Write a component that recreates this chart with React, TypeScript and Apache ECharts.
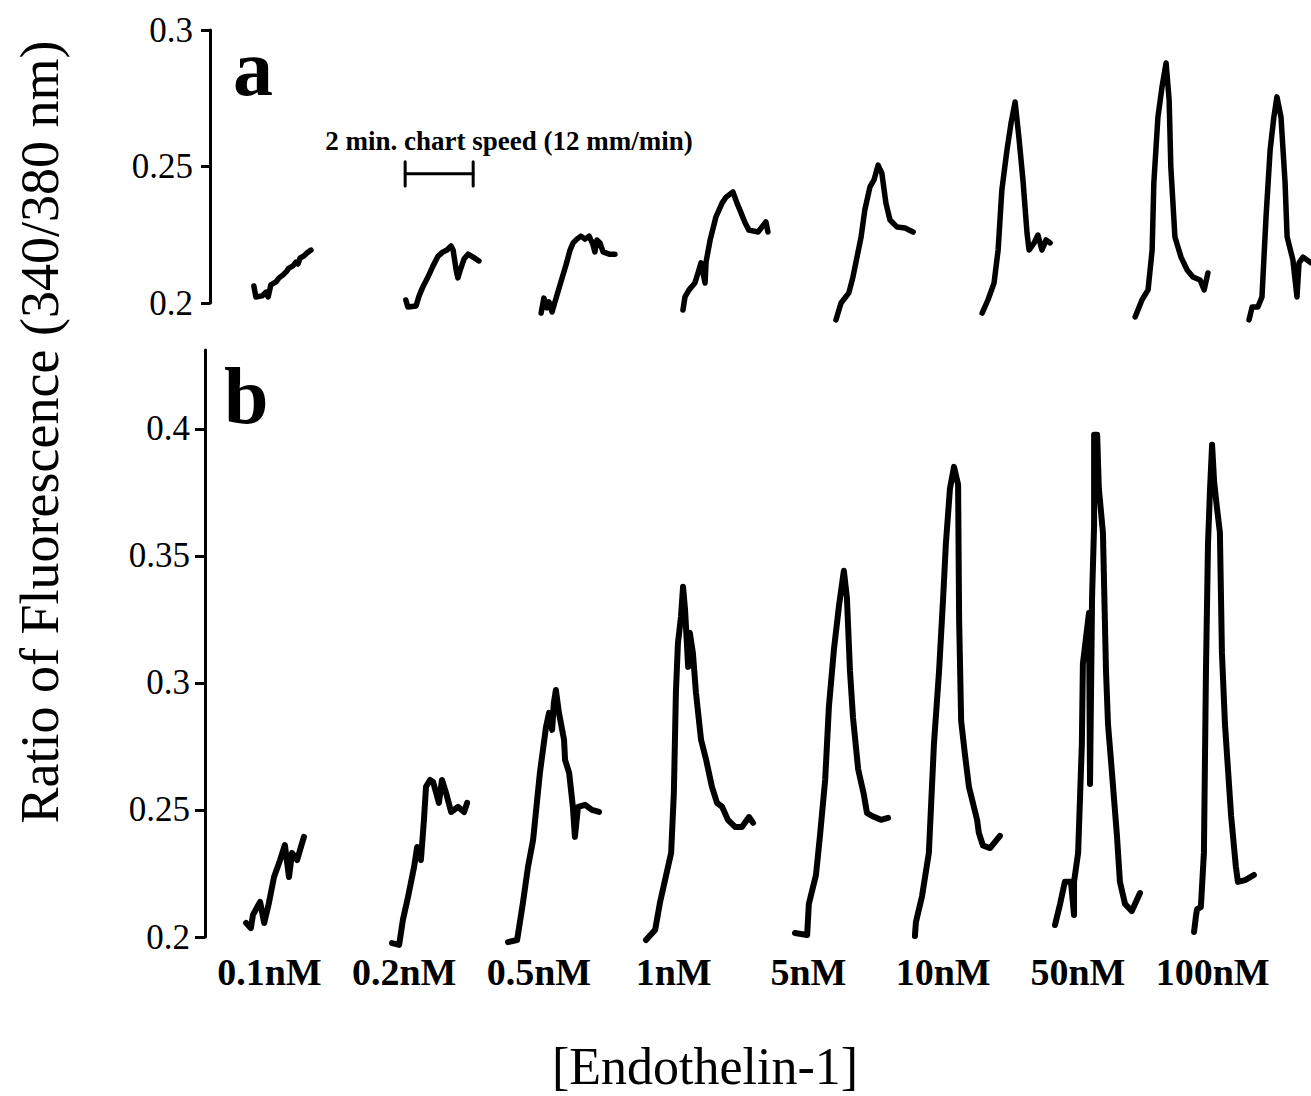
import React, { useEffect, useRef } from "react";
import * as echarts from "echarts";

// ---------- data ----------
const concentrations = ["0.1nM", "0.2nM", "0.5nM", "1nM", "5nM", "10nM", "50nM", "100nM"];
const panelATicks = [0.2, 0.25, 0.3];
const panelBTicks = [0.2, 0.25, 0.3, 0.35, 0.4];

// panel a traces: [time (min), ratio 340/380]
const a01 = [[1.29,0.2062],[1.35,0.2022],[1.53,0.2026],[1.65,0.2040],[1.71,0.2022],[1.79,0.2066],[1.94,0.2077],[2.03,0.2092],[2.15,0.2103],[2.26,0.2117],[2.32,0.2128],[2.44,0.2136],[2.53,0.2150],[2.59,0.2143],[2.65,0.2165],[2.76,0.2172],[2.85,0.2183],[2.97,0.2194]];
const a02 = [[5.76,0.2011],[5.82,0.1985],[6.06,0.1989],[6.15,0.2026],[6.26,0.2059],[6.41,0.2095],[6.56,0.2136],[6.71,0.2172],[6.85,0.2187],[6.97,0.2194],[7.09,0.2209],[7.15,0.2194],[7.24,0.2121],[7.29,0.2092],[7.38,0.2128],[7.47,0.2161],[7.59,0.2179],[7.74,0.2168],[7.91,0.2154]];
const a03 = [[9.74,0.1963],[9.82,0.2018],[9.91,0.1982],[9.97,0.2004],[10.06,0.1967],[10.18,0.2018],[10.32,0.2077],[10.47,0.2139],[10.59,0.2194],[10.68,0.2220],[10.79,0.2234],[10.91,0.2245],[11.03,0.2234],[11.15,0.2245],[11.26,0.2216],[11.32,0.2187],[11.38,0.2231],[11.47,0.2220],[11.56,0.2187],[11.74,0.2179],[11.91,0.2179]];
const a04 = [[13.91,0.1974],[13.97,0.2022],[14.09,0.2048],[14.26,0.2073],[14.38,0.2121],[14.44,0.2147],[14.56,0.2073],[14.59,0.2150],[14.71,0.2231],[14.88,0.2315],[15.06,0.2366],[15.18,0.2388],[15.38,0.2407],[15.50,0.2366],[15.62,0.2330],[15.74,0.2293],[15.85,0.2267],[16.12,0.2260],[16.35,0.2297],[16.41,0.2260]];
const a05 = [[18.41,0.1938],[18.56,0.2000],[18.79,0.2037],[18.91,0.2095],[19.15,0.2242],[19.26,0.2341],[19.41,0.2425],[19.53,0.2451],[19.65,0.2505],[19.76,0.2476],[19.88,0.2366],[20.00,0.2304],[20.21,0.2278],[20.44,0.2275],[20.68,0.2260]];
const a06 = [[22.71,0.1963],[22.88,0.2011],[23.06,0.2073],[23.18,0.2194],[23.29,0.2414],[23.44,0.2560],[23.56,0.2659],[23.68,0.2736],[23.79,0.2608],[23.91,0.2451],[24.03,0.2256],[24.09,0.2194],[24.24,0.2220],[24.35,0.2249],[24.47,0.2194],[24.59,0.2231],[24.71,0.2220]];
const a07 = [[27.21,0.1949],[27.41,0.2011],[27.59,0.2048],[27.71,0.2194],[27.76,0.2440],[27.88,0.2681],[28.00,0.2791],[28.12,0.2879],[28.21,0.2744],[28.26,0.2498],[28.38,0.2242],[28.56,0.2168],[28.74,0.2121],[28.91,0.2095],[29.12,0.2084],[29.24,0.2048],[29.35,0.2110]];
const a08 = [[30.56,0.1938],[30.65,0.1985],[30.82,0.1985],[30.94,0.2022],[31.06,0.2315],[31.18,0.2560],[31.29,0.2681],[31.38,0.2755],[31.50,0.2681],[31.62,0.2440],[31.68,0.2242],[31.85,0.2158],[31.97,0.2022],[32.03,0.2147],[32.15,0.2168],[32.38,0.2147]];

// panel b traces: [time (min), ratio 340/380]
const b01 = [[1.21,0.2055],[1.35,0.2035],[1.41,0.2087],[1.62,0.2138],[1.74,0.2055],[1.88,0.2134],[2.03,0.2236],[2.21,0.2303],[2.35,0.2362],[2.47,0.2236],[2.56,0.2331],[2.71,0.2303],[2.82,0.2354],[2.91,0.2394]];
const b02 = [[5.50,0.1976],[5.71,0.1969],[5.82,0.2067],[5.97,0.2157],[6.15,0.2276],[6.24,0.2354],[6.35,0.2303],[6.44,0.2461],[6.50,0.2591],[6.62,0.2618],[6.71,0.2610],[6.88,0.2528],[6.97,0.2618],[7.09,0.2567],[7.24,0.2492],[7.44,0.2512],[7.62,0.2492],[7.71,0.2528]];
const b03 = [[8.91,0.1980],[9.18,0.1988],[9.35,0.2134],[9.50,0.2276],[9.65,0.2382],[9.85,0.2646],[10.03,0.2827],[10.12,0.2882],[10.21,0.2815],[10.26,0.2921],[10.32,0.2972],[10.41,0.2882],[10.56,0.2776],[10.59,0.2697],[10.71,0.2646],[10.82,0.2512],[10.88,0.2394],[10.97,0.2512],[11.18,0.2520],[11.38,0.2500],[11.59,0.2492]];
const b04 = [[12.97,0.1988],[13.24,0.2028],[13.38,0.2134],[13.53,0.2224],[13.71,0.2331],[13.79,0.2567],[13.85,0.2961],[13.91,0.3157],[14.00,0.3260],[14.06,0.3378],[14.12,0.3287],[14.21,0.3063],[14.26,0.3197],[14.35,0.3118],[14.44,0.2961],[14.59,0.2776],[14.74,0.2697],[14.91,0.2591],[15.06,0.2528],[15.21,0.2512],[15.38,0.2461],[15.59,0.2433],[15.79,0.2433],[16.00,0.2472],[16.12,0.2449]];
const b05 = [[17.35,0.2016],[17.71,0.2008],[17.76,0.2130],[17.97,0.2244],[18.09,0.2402],[18.24,0.2618],[18.35,0.2906],[18.50,0.3134],[18.65,0.3307],[18.79,0.3441],[18.88,0.3335],[18.97,0.3047],[19.06,0.2862],[19.21,0.2661],[19.38,0.2559],[19.47,0.2488],[19.62,0.2476],[19.88,0.2461],[20.09,0.2469]];
const b06 = [[20.88,0.2004],[20.91,0.2059],[21.09,0.2161],[21.29,0.2331],[21.44,0.2760],[21.59,0.3047],[21.71,0.3335],[21.79,0.3547],[21.91,0.3764],[22.03,0.3850],[22.15,0.3780],[22.18,0.3250],[22.24,0.2850],[22.35,0.2720],[22.47,0.2590],[22.71,0.2460],[22.76,0.2410],[22.88,0.2360],[23.09,0.2350],[23.38,0.2398]];
const b07 = [[25.00,0.2047],[25.15,0.2130],[25.29,0.2217],[25.47,0.2217],[25.56,0.2087],[25.56,0.2217],[25.68,0.2331],[25.79,0.2760],[25.82,0.3075],[26.00,0.3276],[26.03,0.2602],[26.09,0.3335],[26.15,0.3622],[26.15,0.3976],[26.24,0.3976],[26.29,0.3764],[26.41,0.3591],[26.50,0.3047],[26.56,0.2835],[26.65,0.2689],[26.82,0.2402],[26.91,0.2217],[27.06,0.2130],[27.26,0.2102],[27.50,0.2173]];
const b08 = [[29.09,0.2020],[29.15,0.2087],[29.18,0.2110],[29.29,0.2118],[29.38,0.2331],[29.44,0.3047],[29.50,0.3547],[29.56,0.3764],[29.62,0.3937],[29.68,0.3791],[29.76,0.3693],[29.85,0.3591],[29.91,0.3118],[30.00,0.2835],[30.18,0.2476],[30.32,0.2276],[30.38,0.2217],[30.59,0.2224],[30.85,0.2244]];

const panelATraces = [a01, a02, a03, a04, a05, a06, a07, a08];
const panelBTraces = [b01, b02, b03, b04, b05, b06, b07, b08];

// scale bar: 2 minutes of chart time
const scaleBarStart = 5.74;
const scaleBarMinutes = 2;
const scaleBarLevel = 0.2473;
const scaleBarCap = 0.0044;
const scaleBarText = "2 min. chart speed (12 mm/min)";

// ---------- layout ----------
const W = 1311;
const H = 1096;
const PX_PER_MIN = 34;
const SERIF = "'Liberation Serif', 'Times New Roman', Times, serif";

const gridA = { left: 210, top: 30, width: 1101, height: 273 };
const gridB = { left: 205, top: 350, width: 1106, height: 587 };
const gridC = { left: 202, top: 350, width: 1078, height: 587 };

function traceSeries(data: number[][], idx: number, width: number) {
  return {
    type: "line",
    data,
    xAxisIndex: idx,
    yAxisIndex: idx,
    showSymbol: false,
    symbol: "none",
    clip: false,
    silent: true,
    lineStyle: { color: "#000", width, cap: "round", join: "round" },
  };
}

export default function App() {
  const ref = useRef<HTMLDivElement>(null);

  useEffect(() => {
    if (!ref.current) return;
    const chart = echarts.init(ref.current, null, { renderer: "svg" });

    const yAxisCommon = {
      type: "value",
      axisLine: { show: true, lineStyle: { color: "#000", width: 3 } },
      axisTick: { show: true, inside: false, length: 9, lineStyle: { color: "#000", width: 3 } },
      splitLine: { show: false },
    };
    const labelCommon = { color: "#000", fontSize: 35, fontFamily: SERIF };

    const series: any[] = [];
    panelATraces.forEach((d) => series.push(traceSeries(d, 0, 5.5)));
    panelBTraces.forEach((d) => series.push(traceSeries(d, 1, 6)));
    const sbEnd = scaleBarStart + scaleBarMinutes;
    series.push(traceSeries([[scaleBarStart, scaleBarLevel], [sbEnd, scaleBarLevel]], 0, 3));
    series.push(traceSeries([[scaleBarStart, scaleBarLevel - scaleBarCap], [scaleBarStart, scaleBarLevel + scaleBarCap]], 0, 3));
    series.push(traceSeries([[sbEnd, scaleBarLevel - scaleBarCap], [sbEnd, scaleBarLevel + scaleBarCap]], 0, 3));

    const option: any = {
      animation: false,
      backgroundColor: "#fff",
      grid: [
        { ...gridA, outerBoundsMode: "none" },
        { ...gridB, outerBoundsMode: "none" },
        { ...gridC, outerBoundsMode: "none" },
      ],
      xAxis: [
        { gridIndex: 0, type: "value", min: 0, max: gridA.width / PX_PER_MIN, show: false },
        { gridIndex: 1, type: "value", min: 0, max: gridB.width / PX_PER_MIN, show: false },
        {
          gridIndex: 2,
          type: "category",
          data: concentrations,
          position: "bottom",
          axisLine: { show: false },
          axisTick: { show: false },
          splitLine: { show: false },
          axisLabel: { color: "#000", fontSize: 38, fontWeight: "bold", fontFamily: SERIF, margin: 16, interval: 0 },
        },
      ],
      yAxis: [
        {
          ...yAxisCommon,
          gridIndex: 0,
          min: 0.2,
          max: 0.3,
          interval: 0.05,
          axisTick: { ...yAxisCommon.axisTick, customValues: panelATicks },
          axisLabel: { ...labelCommon, margin: 17, customValues: panelATicks },
        },
        {
          ...yAxisCommon,
          gridIndex: 1,
          min: 0.2,
          max: 0.431,
          interval: 0.05,
          axisTick: { ...yAxisCommon.axisTick, length: 10, customValues: panelBTicks },
          axisLabel: { ...labelCommon, margin: 15, customValues: panelBTicks },
        },
        { gridIndex: 2, type: "value", show: false },
      ],
      graphic: [
        {
          type: "text",
          x: 40,
          y: 432,
          rotation: Math.PI / 2,
          style: {
            text: "Ratio of Fluorescence (340/380 nm)",
            fontSize: 54,
            fontFamily: SERIF,
            fill: "#000",
            align: "center",
            verticalAlign: "middle",
          },
        },
        {
          type: "text",
          x: 705,
          y: 1066,
          style: {
            text: "[Endothelin-1]",
            fontSize: 52,
            fontFamily: SERIF,
            fill: "#000",
            align: "center",
            verticalAlign: "middle",
          },
        },
        {
          type: "text",
          x: 233,
          y: 68,
          style: { text: "a", fontSize: 80, fontWeight: "bold", fontFamily: SERIF, fill: "#000", align: "left", verticalAlign: "middle" },
        },
        {
          type: "text",
          x: 224,
          y: 396,
          style: { text: "b", fontSize: 80, fontWeight: "bold", fontFamily: SERIF, fill: "#000", align: "left", verticalAlign: "middle" },
        },
        {
          type: "text",
          x: 509,
          y: 141,
          style: { text: scaleBarText, fontSize: 27, fontWeight: "bold", fontFamily: SERIF, fill: "#000", align: "center", verticalAlign: "middle" },
        },
      ],
      series,
    };

    chart.setOption(option);
    return () => chart.dispose();
  }, []);

  return (
    <div
      ref={ref}
      style={{ position: "fixed", left: 0, top: 0, width: W, height: H, background: "#fff" }}
    />
  );
}
